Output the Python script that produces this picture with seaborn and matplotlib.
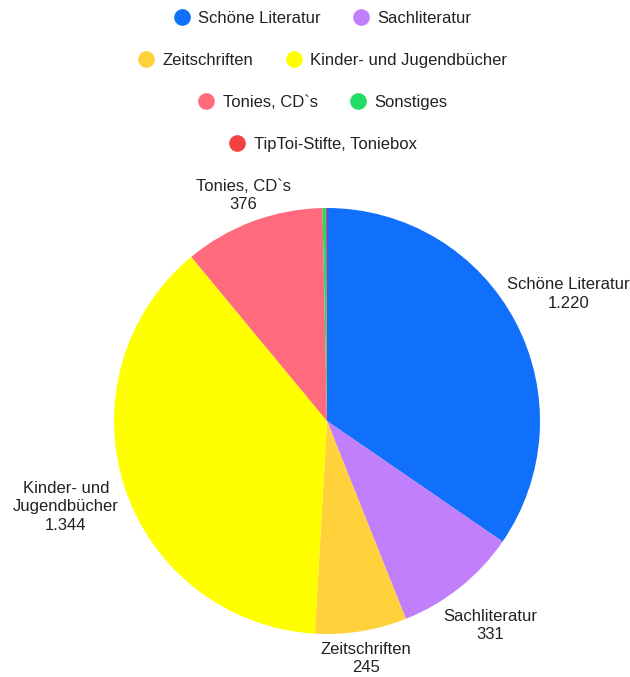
import numpy as np
import matplotlib
matplotlib.use("Agg")
import matplotlib.pyplot as plt
from matplotlib.lines import Line2D
import seaborn as sns

# Data
categories = ['Schöne Literatur', 'Sachliteratur', 'Zeitschriften',
              'Kinder- und Jugendbücher', 'Tonies, CD`s', 'Sonstiges',
              'TipToi-Stifte, Toniebox']
values = [1220, 331, 245, 1344, 376, 9, 3]
slice_labels = ['Schöne Literatur', 'Sachliteratur', 'Zeitschriften',
                'Kinder- und\nJugendbücher', 'Tonies, CD`s', None, None]
colors = ['#1170fb', '#c17ffb', '#ffd23c', '#ffff00', '#ff6a7d',
          '#22dc68', '#f44242']

sns.set_theme(style='white')
plt.rcParams['font.family'] = ['Liberation Sans', 'DejaVu Sans']

fig = plt.figure(figsize=(6.3, 6.77), dpi=100)
cx, cy, r = 327, 421, 213
ax = fig.add_axes([(cx - r) / 630, (677 - cy - r) / 677, 2 * r / 630, 2 * r / 677])

palette = sns.color_palette(colors)
wedges, _ = ax.pie(values, colors=palette, startangle=90, counterclock=False,
                   wedgeprops=dict(linewidth=0))
ax.set_xlim(-1, 1)
ax.set_ylim(-1, 1)
ax.set_aspect('auto')
ax.axis('off')

# outside labels
label_dist = [1.28, 1.23, 1.13, 1.29, 1.13]
for w, lab, v, d in zip(wedges, slice_labels, values, label_dist + [0, 0]):
    if lab is None:
        continue
    ang = np.deg2rad((w.theta1 + w.theta2) / 2)
    txt = lab + '\n' + f'{v:,}'.replace(',', '.')
    ax.text(d * np.cos(ang), d * np.sin(ang), txt, ha='center', va='center',
            multialignment='center', fontsize=12, color='#222222',
            linespacing=1.3)

# legend, one centred row per pair
rows = [[0, 1], [2, 3], [4, 5], [6]]
row_y = [0.973, 0.911, 0.849, 0.787]
for idx, y in zip(rows, row_y):
    handles = [Line2D([0], [0], marker='o', linestyle='none', markersize=12,
                      markerfacecolor=colors[i], markeredgewidth=0)
               for i in idx]
    leg = fig.legend(handles, [categories[i] for i in idx], loc='center',
                     bbox_to_anchor=(0.512, y), ncol=len(idx), frameon=False,
                     fontsize=12, handlelength=1.0, handletextpad=0.5,
                     columnspacing=1.9, borderaxespad=0, borderpad=0)
    for t in leg.get_texts():
        t.set_color('#222222')

fig.savefig('out.png', dpi=100, facecolor='white')
